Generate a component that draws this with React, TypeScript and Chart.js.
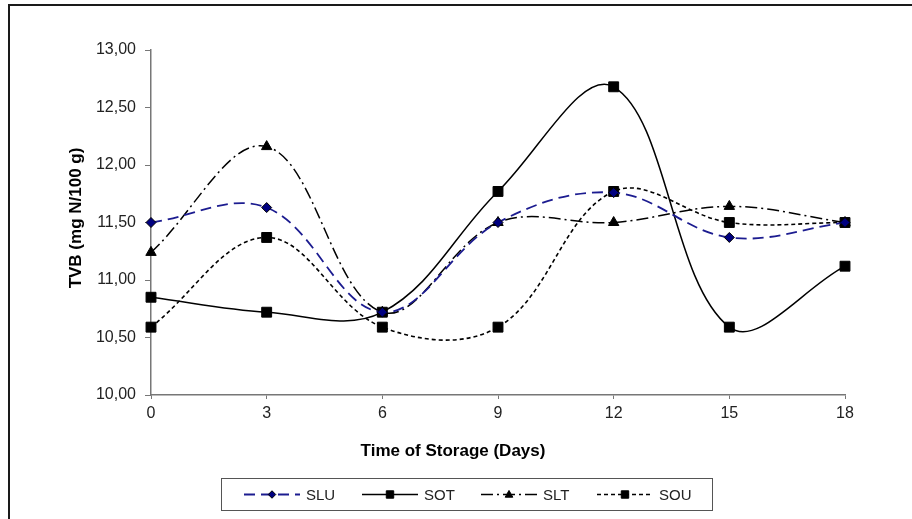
import React, { useEffect, useRef } from "react";
import { Chart, registerables } from "chart.js";

Chart.register(...registerables);

const days = [0, 3, 6, 9, 12, 15, 18];
const seriesNames = ["SLU", "SOT", "SLT", "SOU"];
const sluValues = [11.5, 11.63, 10.72, 11.5, 11.76, 11.37, 11.5];
const sotValues = [10.85, 10.72, 10.72, 11.77, 12.68, 10.59, 11.12];
const sltValues = [11.24, 12.16, 10.72, 11.5, 11.5, 11.64, 11.5];
const souValues = [10.59, 11.37, 10.59, 10.59, 11.77, 11.5, 11.5];
const yTitle = "TVB (mg N/100 g)";
const xTitle = "Time of Storage (Days)";

const FONT = '"Liberation Sans", Arial, sans-serif';

type Style = {
  color: string;
  dash: number[];
  width: number;
  point: string;
  radius: number;
  fill: string;
};

const styles: Style[] = [
  { color: "#1c1c90", dash: [11, 6], width: 1.8, point: "rectRot", radius: 5, fill: "#000080" },
  { color: "#000000", dash: [], width: 1.5, point: "rect", radius: 7, fill: "#000000" },
  { color: "#000000", dash: [12, 4, 2, 4], width: 1.5, point: "triangle", radius: 6, fill: "#000000" },
  { color: "#000000", dash: [4, 3], width: 1.6, point: "rect", radius: 7, fill: "#000000" },
];

const allValues = [sluValues, sotValues, sltValues, souValues];

function drawMarker(ctx: CanvasRenderingContext2D, st: Style, x: number, y: number, scale = 1) {
  ctx.save();
  ctx.setLineDash([]);
  ctx.fillStyle = st.fill;
  ctx.strokeStyle = "#000";
  ctx.lineWidth = 1;
  const r = st.radius * scale;
  ctx.beginPath();
  if (st.point === "rect") {
    const s = r * Math.SQRT1_2;
    ctx.rect(x - s, y - s, 2 * s, 2 * s);
  } else if (st.point === "rectRot") {
    ctx.moveTo(x, y - r);
    ctx.lineTo(x + r, y);
    ctx.lineTo(x, y + r);
    ctx.lineTo(x - r, y);
    ctx.closePath();
  } else {
    const h = r * 1.5;
    ctx.moveTo(x, y - h * 0.6);
    ctx.lineTo(x + r * 0.85, y + h * 0.4);
    ctx.lineTo(x - r * 0.85, y + h * 0.4);
    ctx.closePath();
  }
  ctx.fill();
  ctx.stroke();
  ctx.restore();
}

const decorPlugin = {
  id: "decor",
  afterDraw(chart: any) {
    const ctx: CanvasRenderingContext2D = chart.ctx;
    ctx.save();
    // outer frame (left and top)
    ctx.strokeStyle = "#1a1a1a";
    ctx.lineWidth = 2;
    ctx.setLineDash([]);
    ctx.beginPath();
    ctx.moveTo(9, 530);
    ctx.lineTo(9, 5);
    ctx.lineTo(920, 5);
    ctx.stroke();

    // axis titles
    ctx.fillStyle = "#000";
    ctx.textAlign = "center";
    ctx.textBaseline = "middle";
    ctx.font = `bold 17px ${FONT}`;
    ctx.fillText(xTitle, 453, 451);
    ctx.save();
    ctx.translate(76, 218);
    ctx.rotate(-Math.PI / 2);
    ctx.font = `bold 17px ${FONT}`;
    ctx.fillText(yTitle, 0, 0);
    ctx.restore();

    // legend
    ctx.strokeStyle = "#555";
    ctx.lineWidth = 1;
    ctx.strokeRect(221.5, 478.5, 491, 32);
    const starts = [244, 362, 481, 597];
    const ly = 494.5;
    ctx.font = `15px ${FONT}`;
    ctx.textAlign = "left";
    seriesNames.forEach((name, i) => {
      const st = styles[i];
      const x0 = starts[i];
      ctx.save();
      ctx.strokeStyle = st.color;
      ctx.lineWidth = st.width;
      ctx.setLineDash(st.dash);
      ctx.beginPath();
      ctx.moveTo(x0, ly);
      ctx.lineTo(x0 + 56, ly);
      ctx.stroke();
      ctx.restore();
      drawMarker(ctx, st, x0 + 28, ly, 0.75);
      ctx.fillStyle = "#222";
      ctx.fillText(name, x0 + 62, ly + 1);
    });
    ctx.restore();
  },
};

export default function App() {
  const ref = useRef<HTMLCanvasElement | null>(null);

  useEffect(() => {
    if (!ref.current) return;
    Chart.defaults.font.family = FONT;
    const datasets = seriesNames.map((name, i) => {
      const st = styles[i];
      return {
        label: name,
        data: days.map((d, j) => ({ x: d, y: allValues[i][j] })),
        borderColor: st.color,
        borderDash: st.dash,
        borderWidth: st.width,
        pointStyle: st.point as any,
        pointRadius: st.radius,
        pointBackgroundColor: st.fill,
        pointBorderColor: "#000",
        pointBorderWidth: 1,
        tension: 0.37,
        fill: false,
        clip: false as any,
      };
    });
    const chart = new Chart(ref.current, {
      type: "line",
      data: { datasets },
      options: {
        animation: false,
        responsive: true,
        maintainAspectRatio: false,
        layout: { padding: { left: 0, right: 67, top: 50, bottom: 0 } },
        plugins: { legend: { display: false }, tooltip: { enabled: false } },
        scales: {
          x: {
            type: "linear",
            min: 0,
            max: 18,
            ticks: { stepSize: 3, color: "#222", font: { size: 16 }, padding: 5 },
            grid: { drawOnChartArea: false, drawTicks: true, tickLength: 4, color: "#777" },
            border: { color: "#777", width: 1.5 },
            afterFit: (scale: any) => {
              scale.height = 124;
            },
          },
          y: {
            min: 10,
            max: 13,
            ticks: {
              stepSize: 0.5,
              color: "#222",
              font: { size: 16 },
              padding: 9,
              callback: (v: any) => Number(v).toFixed(2).replace(".", ","),
            },
            grid: { drawOnChartArea: false, drawTicks: true, tickLength: 6, color: "#777" },
            border: { color: "#777", width: 1.5 },
            afterFit: (scale: any) => {
              scale.width = 151;
            },
          },
        },
      },
      plugins: [decorPlugin],
    });
    return () => chart.destroy();
  }, []);

  return (
    <div style={{ position: "fixed", left: 0, top: 0, width: 912, height: 519, background: "#fff" }}>
      <canvas ref={ref} />
    </div>
  );
}
